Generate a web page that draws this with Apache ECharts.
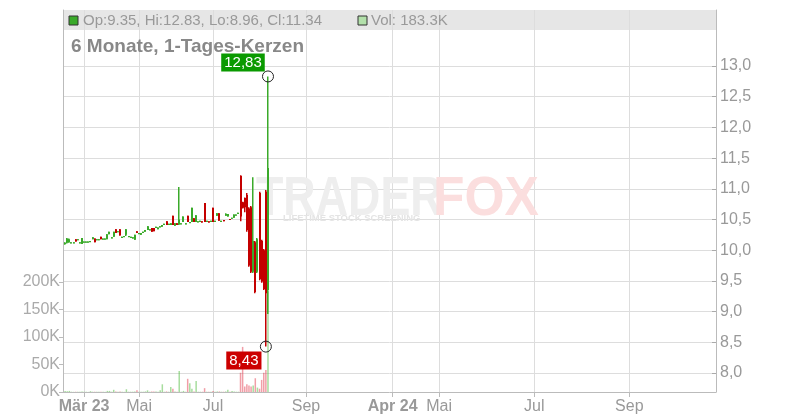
<!DOCTYPE html>
<html><head><meta charset="utf-8">
<script src="https://cdn.jsdelivr.net/npm/echarts@6/dist/echarts.min.js"></script>
<style>html,body{margin:0;padding:0;background:#fff}#c{width:800px;height:420px}</style>
</head><body><div id="c"></div><script>
// ---- axis slots (trading-day slots on the x axis) ----
const slotCount = 310;
const firstSlot = 1;
const tickSlots = [10, 36, 71, 115, 156, 178, 223, 268];
const tickNames = ['Mär 23', 'Mai', 'Jul', 'Sep', 'Apr 24', 'Mai', 'Jul', 'Sep'];

// ---- daily candles ----
const opens  = [10.10,10.12,10.13,10.12,10.12,10.18,10.17,10.12,10.10,10.13,10.13,10.13,10.14,10.18,10.19,10.17,10.17,10.22,10.18,10.18,
                10.18,10.26,10.20,10.22,10.34,10.30,10.34,10.21,10.22,10.25,10.22,10.21,10.19,10.17,10.31,10.27,10.25,10.29,10.30,10.33,
                10.33,10.36,10.36,10.36,10.34,10.38,10.38,10.42,10.47,10.42,10.41,10.56,10.40,10.44,10.42,10.43,10.46,10.43,10.56,10.45,
                10.46,10.52,10.46,10.46,10.47,10.47,10.77,10.47,10.47,10.46,10.69,10.46,10.56,10.60,10.47,10.49,10.56,10.55,10.51,10.52,
                10.53,10.57,10.60,11.21,10.78,10.85,10.90,10.68,10.70,9.65,10.13,9.65,10.93,10.15,10.00,10.95,9.35];
const closes = [10.12,10.19,10.18,10.13,10.13,10.14,10.18,10.13,10.20,10.14,10.14,10.14,10.15,10.21,10.13,10.18,10.18,10.18,10.19,10.19,
                10.26,10.30,10.21,10.30,10.28,10.31,10.24,10.22,10.23,10.34,10.23,10.22,10.21,10.25,10.28,10.28,10.28,10.30,10.33,10.39,
                10.34,10.30,10.31,10.38,10.37,10.39,10.41,10.43,10.41,10.43,10.44,10.41,10.44,10.41,10.50,10.44,10.55,10.44,10.46,10.46,
                10.69,10.46,10.57,10.47,10.48,10.45,10.46,10.48,10.45,10.48,10.46,10.48,10.60,10.48,10.48,10.47,10.59,10.59,10.50,10.53,
                10.58,10.58,10.61,10.55,10.69,10.70,10.33,9.75,9.65,10.15,9.32,10.18,9.53,9.49,9.37,9.30,11.34];
const lows   = [10.09,10.11,10.12,10.12,10.12,10.14,10.17,10.12,10.10,10.13,10.13,10.13,10.14,10.18,10.13,10.17,10.17,10.18,10.18,10.18,
                10.18,10.26,10.20,10.22,10.28,10.30,10.24,10.21,10.22,10.23,10.22,10.21,10.19,10.17,10.28,10.27,10.25,10.29,10.30,10.33,
                10.33,10.30,10.31,10.36,10.34,10.38,10.38,10.42,10.41,10.42,10.41,10.41,10.40,10.41,10.41,10.43,10.46,10.43,10.46,10.45,
                10.46,10.46,10.46,10.46,10.47,10.45,10.46,10.47,10.45,10.46,10.46,10.46,10.56,10.48,10.47,10.47,10.56,10.55,10.50,10.52,
                10.53,10.57,10.60,10.47,10.68,10.62,10.30,9.73,9.63,9.63,9.30,9.63,9.51,9.47,9.35,8.43,8.96];
const highs  = [10.13,10.20,10.19,10.13,10.13,10.18,10.18,10.13,10.20,10.14,10.14,10.14,10.15,10.21,10.19,10.18,10.18,10.22,10.19,10.19,
                10.26,10.30,10.21,10.30,10.34,10.31,10.34,10.22,10.23,10.34,10.23,10.22,10.21,10.25,10.31,10.28,10.28,10.30,10.33,10.39,
                10.34,10.36,10.36,10.38,10.37,10.39,10.41,10.43,10.47,10.43,10.44,10.56,10.44,10.44,11.03,10.44,10.55,10.44,10.56,10.46,
                10.69,10.52,10.57,10.47,10.48,10.47,10.77,10.48,10.47,10.48,10.69,10.48,10.60,10.60,10.48,10.49,10.60,10.59,10.51,10.53,
                10.58,10.58,10.61,11.22,10.79,10.86,10.93,10.70,10.72,11.19,10.15,10.20,10.95,10.17,10.02,10.98,12.83];
// volume in thousands
const volumes = [2,1.5,2,0.5,0.3,0.5,0.3,0.3,1,0.3,0.3,0.2,1.5,0.5,0.5,0.3,0.3,0.5,0.3,0.3,
                 2,2,0.5,4,1,0.5,1,0.3,0.3,5,0.5,0.5,0.5,1,3,0.5,0.5,0.5,1,3,
                 0.5,1,1,1,0.5,3,14,0.5,1,0.5,9,6,1,0.5,38,0.5,2,0.5,24,16,
                 6,1,20,0.5,0.5,0.5,7,0.5,0.5,0.5,2,0.5,1,1,0.5,0.5,1,4,0.5,2,
                 1,0.5,0.5,35,82,10,14,12,10,12,25,8,6,22,35,40,183.3];

const FONT = "'Liberation Sans', Arial, sans-serif";
const UP = '#3aaa2a', DOWN = '#c40000';
const cats = Array.from({length: slotCount}, (_, i) => String(i));
const isTick = (i) => tickSlots.includes(i);
const candleData = opens.map((o, i) => [firstSlot + i, o, closes[i], lows[i], highs[i]]);
const pad = new Array(firstSlot).fill('-');
const volData = pad.concat(volumes.map((v, i) => ({
  value: v,
  itemStyle: {color: closes[i] >= opens[i] ? 'rgba(60,180,40,0.45)' : 'rgba(225,40,60,0.45)'}
})));
const last = opens.length - 1;
const hiIdx = highs.indexOf(Math.max(...highs));
const loIdx = lows.indexOf(Math.min(...lows));
const fmt2 = v => v.toFixed(2);
const headerText = `Op:${fmt2(opens[last])}, Hi:${fmt2(highs[last])}, Lo:${fmt2(lows[last])}, Cl:${fmt2(closes[last])}`;
const volText = `Vol: ${volumes[last].toFixed(1)}K`;

function renderCandle(params, api) {
  const s = api.value(0), o = api.value(1), c = api.value(2), l = api.value(3), h = api.value(4);
  const pO = api.coord([s, o]), pC = api.coord([s, c]), pL = api.coord([s, l]), pH = api.coord([s, h]);
  const cx = Math.round(pO[0]);
  const color = c >= o ? UP : DOWN;
  const top = Math.min(pO[1], pC[1]), bot = Math.max(pO[1], pC[1]);
  return {
    type: 'group',
    children: [
      {type: 'rect', shape: {x: cx - 1, y: pH[1], width: 1.5, height: Math.max(1, pL[1] - pH[1])}, style: {fill: color}},
      {type: 'rect', shape: {x: cx - 1, y: top, width: 2, height: Math.max(1.2, bot - top)}, style: {fill: color}}
    ]
  };
}

const L = 63, R = 84;
const chart = echarts.init(document.getElementById('c'), null, {renderer: 'canvas'});
chart.setOption({
  animation: false,
  tooltip: {show: false},
  textStyle: {fontFamily: FONT},
  grid: [
    {left: L, right: R, top: 10, bottom: 28},
    {left: L, right: R, top: 66, bottom: 47},
    {left: L, right: R, top: 282, bottom: 28}
  ],
  xAxis: [
    {gridIndex: 0, type: 'category', data: cats, boundaryGap: false,
     axisLine: {lineStyle: {color: '#bbb'}},
     axisTick: {interval: isTick, length: 5, lineStyle: {color: '#bbb'}},
     axisLabel: {interval: isTick, margin: 7, color: '#999', fontSize: 16, fontFamily: FONT,
       formatter: (v) => {
         const n = tickNames[tickSlots.indexOf(Number(v))] || '';
         return /\d/.test(n) ? '{b|' + n + '}' : n;
       },
       rich: {b: {fontWeight: 'bold', color: '#999', fontSize: 16, fontFamily: FONT}}},
     splitLine: {show: true, interval: isTick, lineStyle: {color: '#ddd'}}},
    {gridIndex: 1, type: 'category', data: cats, boundaryGap: false, show: false},
    {gridIndex: 2, type: 'category', data: cats, boundaryGap: false, show: false}
  ],
  yAxis: [
    {gridIndex: 0, type: 'value', position: 'left', min: 0, max: 1,
     axisLine: {show: true, lineStyle: {color: '#bbb'}}, axisTick: {show: false},
     axisLabel: {show: false}, splitLine: {show: false}},
    {gridIndex: 0, type: 'value', position: 'right', min: 0, max: 1,
     axisLine: {show: true, lineStyle: {color: '#bbb'}}, axisTick: {show: false},
     axisLabel: {show: false}, splitLine: {show: false}},
    {gridIndex: 1, type: 'value', position: 'right', min: 8, max: 13, interval: 0.5,
     axisLine: {show: false},
     axisTick: {show: true, inside: true, length: 4, lineStyle: {color: '#aaa'}},
     axisLabel: {margin: 4, color: '#999', fontSize: 16, fontFamily: FONT,
       formatter: v => v.toFixed(1).replace('.', ',')},
     splitLine: {show: true, lineStyle: {color: '#ddd'}}},
    {gridIndex: 2, type: 'value', position: 'left', min: 0, max: 200, interval: 50,
     axisLine: {show: false},
     axisTick: {show: true, length: 4, lineStyle: {color: '#bbb'}},
     axisLabel: {margin: 3, color: '#aaa', fontSize: 16, fontFamily: FONT, formatter: v => v + 'K'},
     splitLine: {show: false}}
  ],
  graphic: [
    {type: 'rect', z: -1, shape: {x: L, y: 10, width: 800 - L - R, height: 20}, style: {fill: '#e6e6e6'}},
    {type: 'rect', z: 5, shape: {x: 69, y: 16, width: 9, height: 9}, style: {fill: UP, stroke: '#333', lineWidth: 1}},
    {type: 'text', z: 5, x: 83, y: 21, style: {text: headerText, font: '15px ' + FONT, fill: '#999', verticalAlign: 'middle'}},
    {type: 'rect', z: 5, shape: {x: 358, y: 16, width: 9, height: 9}, style: {fill: '#b2e0aa', stroke: '#333', lineWidth: 1}},
    {type: 'text', z: 5, x: 371, y: 21, style: {text: volText, font: '15px ' + FONT, fill: '#999', verticalAlign: 'middle'}},
    {type: 'text', z: 5, x: 71, y: 47, style: {text: '6 Monate, 1-Tages-Kerzen', font: 'bold 19px ' + FONT, fill: '#888', verticalAlign: 'middle'}},
    {type: 'text', z: 1, x: 256, y: 200, scaleX: 0.8, style: {text: 'TRADER', font: 'bold 56px ' + FONT, fill: '#eeeeee', verticalAlign: 'middle'}},
    {type: 'text', z: 1, x: 433, y: 200, scaleX: 0.92, style: {text: 'FOX', font: 'bold 56px ' + FONT, fill: '#fbdede', verticalAlign: 'middle'}},
    {type: 'text', z: 1, x: 283, y: 219, scaleX: 1.05, style: {text: 'LIFETIME STOCK SCREENING', font: 'bold 9px ' + FONT, fill: '#e4e4e4', verticalAlign: 'middle'}}
  ],
  series: [
    {type: 'bar', xAxisIndex: 2, yAxisIndex: 3, data: volData, barWidth: 1.5, z: 2},
    {type: 'custom', xAxisIndex: 1, yAxisIndex: 2, data: candleData, renderItem: renderCandle, z: 3,
     encode: {x: 0, y: [1, 2, 3, 4]}},
    {type: 'scatter', xAxisIndex: 1, yAxisIndex: 2, z: 4,
     symbol: 'circle', symbolSize: 11,
     itemStyle: {color: 'rgba(255,255,255,0)', borderColor: '#222', borderWidth: 1, opacity: 1},
     data: [
       {value: [firstSlot + hiIdx, highs[hiIdx]],
        label: {offset: [-25, -14], backgroundColor: '#0a9a00'}},
       {value: [firstSlot + loIdx, lows[loIdx]],
        label: {offset: [-22, 14], backgroundColor: '#cc0000'}}
     ],
     label: {show: true, position: 'inside', color: '#fff', fontSize: 15, fontFamily: FONT, opacity: 1,
       padding: [2, 3, 1, 3], formatter: p => p.value[1].toFixed(2).replace('.', ',')}}
  ]
});
</script></body></html>
